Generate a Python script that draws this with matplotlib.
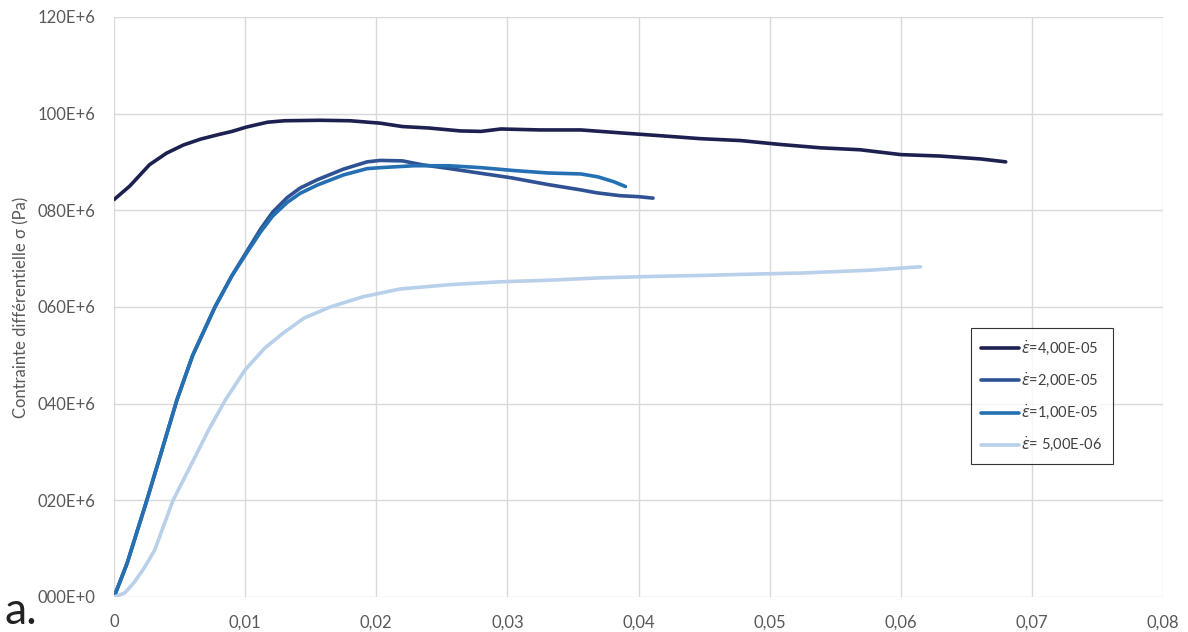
import matplotlib.pyplot as plt
import numpy as np

# strain (x) and differential stress in 1E+6 Pa (y)
x_4e5 = [0, 0.0012, 0.0027, 0.0040, 0.0053, 0.0066, 0.0079, 0.0090, 0.0101, 0.0117, 0.0130,
         0.0157, 0.0180, 0.0203, 0.0220, 0.0240, 0.0264, 0.0280, 0.0295, 0.0325, 0.0356,
         0.0386, 0.0417, 0.0447, 0.0478, 0.0508, 0.0539, 0.0569, 0.0600, 0.0630, 0.0661, 0.0680]
y_4e5 = [82.2, 85.0, 89.4, 91.8, 93.5, 94.7, 95.6, 96.3, 97.2, 98.2, 98.5,
         98.6, 98.5, 98.0, 97.3, 97.0, 96.4, 96.3, 96.8, 96.6, 96.6,
         96.0, 95.4, 94.8, 94.4, 93.6, 92.9, 92.5, 91.5, 91.2, 90.6, 90.0]

x_2e5 = [0, 0.0010, 0.0025, 0.0035, 0.0048, 0.0060, 0.0077, 0.0090, 0.0102, 0.0112, 0.0121,
         0.0132, 0.0142, 0.0155, 0.0175, 0.0193, 0.0203, 0.0220, 0.0235, 0.0256, 0.0278,
         0.0303, 0.0331, 0.0356, 0.0368, 0.0386, 0.0400, 0.0411]
y_2e5 = [0, 7, 20, 29, 40.8, 50, 60, 66.5, 71.8, 76.2, 79.6,
         82.6, 84.6, 86.3, 88.5, 90.0, 90.3, 90.2, 89.4, 88.6, 87.7,
         86.7, 85.3, 84.2, 83.6, 83.0, 82.8, 82.5]

x_1e5 = [0, 0.0010, 0.0025, 0.0035, 0.0048, 0.0060, 0.0077, 0.0090, 0.0102, 0.0112, 0.0121,
         0.0132, 0.0142, 0.0155, 0.0175, 0.0193, 0.0203, 0.0229, 0.0255, 0.0280, 0.0305,
         0.0331, 0.0356, 0.0369, 0.0381, 0.0390]
y_1e5 = [0, 7, 20, 29, 40.8, 50, 60, 66.5, 71.5, 75.6, 78.8,
         81.6, 83.5, 85.2, 87.3, 88.6, 88.8, 89.2, 89.2, 88.8, 88.2,
         87.7, 87.5, 86.9, 85.9, 84.9]

x_5e6 = [0, 0.0008, 0.0015, 0.0023, 0.0031, 0.0045, 0.0060, 0.0072, 0.0085, 0.0100, 0.0115,
         0.0129, 0.0145, 0.0165, 0.0190, 0.0218, 0.0256, 0.0295, 0.0330, 0.0370, 0.0410,
         0.0447, 0.0490, 0.0524, 0.0577, 0.0615]
y_5e6 = [0, 0.8, 2.9, 6, 9.7, 20, 28, 34.5, 40.8, 47, 51.5,
         54.6, 57.7, 60.0, 62.1, 63.7, 64.6, 65.2, 65.5, 66, 66.3,
         66.5, 66.8, 67, 67.6, 68.3]

labels = [r"$\dot{\varepsilon}$=4,00E-05", r"$\dot{\varepsilon}$=2,00E-05",
          r"$\dot{\varepsilon}$=1,00E-05", r"$\dot{\varepsilon}$= 5,00E-06"]
colors = ["#1c2150", "#2e5293", "#2470b3", "#b8d0ea"]

x_ticks = [0, 0.01, 0.02, 0.03, 0.04, 0.05, 0.06, 0.07, 0.08]
x_ticklabels = ["0", "0,01", "0,02", "0,03", "0,04", "0,05", "0,06", "0,07", "0,08"]
y_ticks = [0, 20, 40, 60, 80, 100, 120]
y_ticklabels = ["000E+0", "020E+6", "040E+6", "060E+6", "080E+6", "100E+6", "120E+6"]

plt.rcParams['font.family'] = ['Lato', 'DejaVu Sans']

fig = plt.figure(figsize=(11.88, 6.32), dpi=100)
ax = fig.add_axes([0.096, 0.0554, 0.883, 0.918])

series = [(x_4e5, y_4e5), (x_2e5, y_2e5), (x_1e5, y_1e5), (x_5e6, y_5e6)]
for (xs, ys), lab, col in zip(series, labels, colors):
    ax.plot(np.array(xs), np.array(ys), color=col, lw=2.6, label=lab, solid_capstyle='round')

ax.set_xlim(0, 0.08)
ax.set_ylim(0, 120)
ax.set_xticks(x_ticks)
ax.set_xticklabels(x_ticklabels)
ax.set_yticks(y_ticks)
ax.set_yticklabels(y_ticklabels)
ax.tick_params(length=0, labelsize=12, colors="#595959")
ax.tick_params(axis='y', pad=13.5)
ax.tick_params(axis='x', pad=12.5)
ax.grid(True, color="#d9d9d9", lw=1)
ax.set_axisbelow(True)
for s in ax.spines.values():
    s.set_visible(False)

ax.set_ylabel("Contrainte différentielle σ (Pa)", fontsize=12, color="#595959", labelpad=6)

leg = ax.legend(loc='center', bbox_to_anchor=(0.8845, 0.346),
                fontsize=10.5, frameon=True, fancybox=False, handlelength=2.6,
                labelspacing=0.9, borderpad=0.7, handletextpad=0.15, borderaxespad=0)
leg.get_frame().set_edgecolor("#000000")
leg.get_frame().set_linewidth(0.8)
for t in leg.get_texts():
    t.set_color("#404040")

fig.text(0.004, 0.012, "a.", fontsize=32, color="#222222")

fig.savefig("out.png", dpi=100)
